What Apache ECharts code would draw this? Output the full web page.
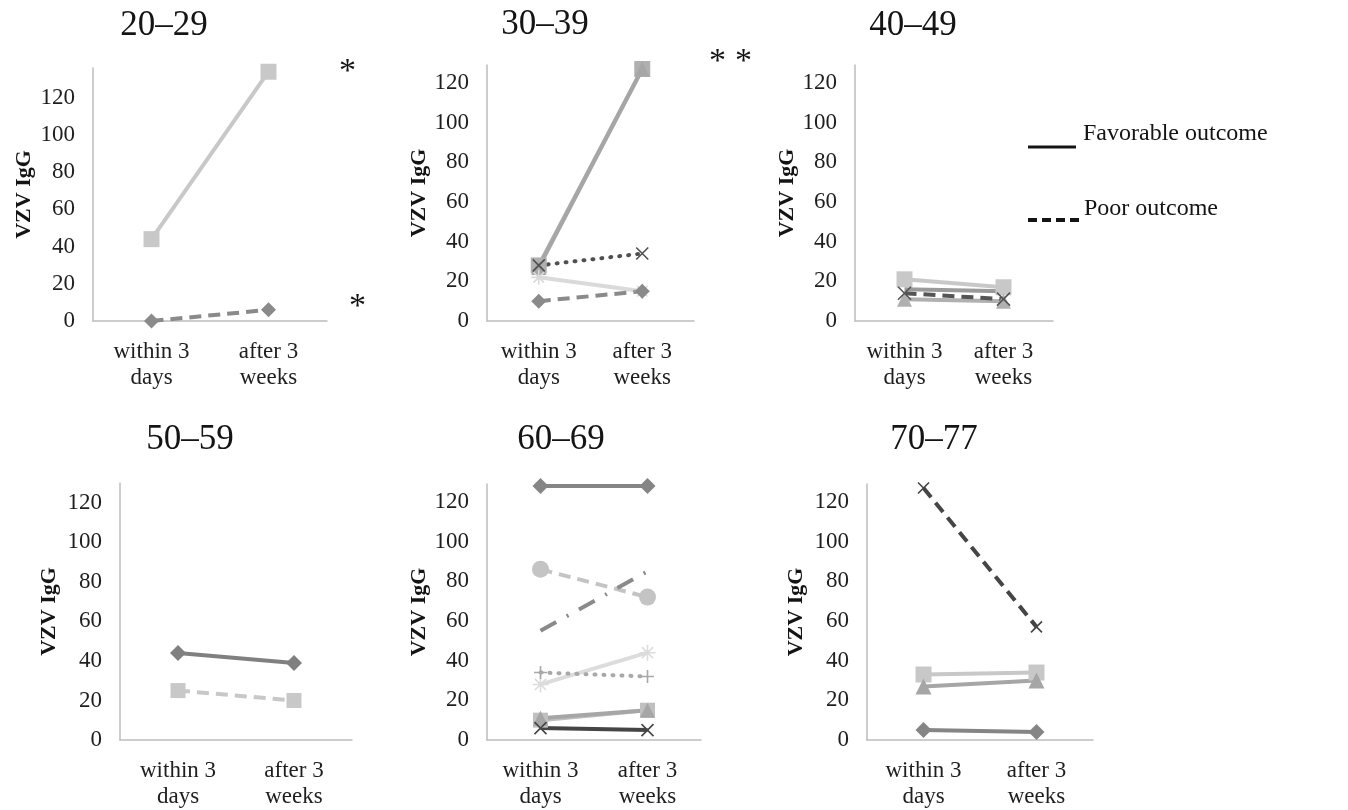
<!DOCTYPE html>
<html>
<head>
<meta charset="utf-8">
<script src="https://cdn.jsdelivr.net/npm/echarts@6/dist/echarts.min.js"></script>
<style>
  * { margin: 0; padding: 0; }
  html, body { background: #fff; }
  #main { width: 1348px; height: 810px; }
</style>
</head>
<body>
<div id="main"></div>
<script>
  // categories and panel titles
  var categories = ['within 3\ndays', 'after 3\nweeks'];
  var panelTitles = ['20–29', '30–39', '40–49', '50–59', '60–69', '70–77'];
  var yTickStep = 20;
  var yMax = [136, 129, 129, 130, 129, 129];

  // 20–29
  var a20_square = [44, 134];
  var a20_diamond = [0, 6];
  // 30–39
  var a30_square = [28, 127];
  var a30_triangle = [27, 127];
  var a30_cross = [28, 34];
  var a30_star = [22, 15];
  var a30_diamond = [10, 15];
  // 40–49
  var a40_square = [21, 17];
  var a40_plain = [16, 15];
  var a40_cross = [14, 11];
  var a40_triangle = [11, 10];
  // 50–59
  var a50_diamond = [44, 39];
  var a50_square = [25, 20];
  // 60–69
  var a60_diamond = [128, 128];
  var a60_circle = [86, 72];
  var a60_dashdot = [55, 85];
  var a60_star = [28, 44];
  var a60_plus = [34, 32];
  var a60_square = [10, 15];
  var a60_triangle = [11, 15];
  var a60_cross = [6, 5];
  // 70–77
  var a70_cross = [127, 57];
  var a70_square = [33, 34];
  var a70_triangle = [27, 30];
  var a70_diamond = [5, 4];

  var SERIF = '"Liberation Serif", "DejaVu Serif", serif';
  var INK = '#141414';
  var xSym = 'path://M0,0L10,10M10,0L0,10';
  var starSym = 'path://M5,0L5,10M0,5L10,5M1.5,1.5L8.5,8.5M8.5,1.5L1.5,8.5';
  var plusSym = 'path://M5,0L5,10M0,5L10,5';

  var dash = [12, 7];
  var dot = [1, 8];
  var dashDot = [18, 12, 2, 12];

  // grids (px) : left, top, width, height
  var grids = [
    { left: 93, top: 68, width: 234, height: 253 },
    { left: 487, top: 65, width: 207, height: 256 },
    { left: 855, top: 65, width: 198, height: 256 },
    { left: 120, top: 483, width: 232, height: 257 },
    { left: 487, top: 484, width: 214, height: 256 },
    { left: 867, top: 484, width: 226, height: 256 }
  ];
  var nameGaps = [58, 56, 52, 60, 56, 60];

  // panel, data, color, line type, symbol, size, width
  var lines = [
    [0, a20_square, '#c8c8c8', 'solid', 'rect', 16, 4],
    [0, a20_diamond, '#8a8a8a', dash, 'diamond', 15, 4],

    [1, a30_square, '#b0b0b0', 'solid', 'rect', 16, 4],
    [1, a30_triangle, '#a6a6a6', 'solid', 'triangle', 15, 4],
    [1, a30_star, '#dadada', 'solid', starSym, 15, 4],
    [1, a30_cross, '#505050', dot, xSym, 12, 4],
    [1, a30_diamond, '#8a8a8a', dash, 'diamond', 15, 4],

    [2, a40_square, '#c8c8c8', 'solid', 'rect', 16, 4],
    [2, a40_plain, '#9a9a9a', 'solid', 'none', 0, 4],
    [2, a40_triangle, '#b0b0b0', 'solid', 'triangle', 15, 4],
    [2, a40_cross, '#555555', dash, xSym, 13, 4],

    [3, a50_diamond, '#808080', 'solid', 'diamond', 16, 4],
    [3, a50_square, '#c8c8c8', dash, 'rect', 15, 4],

    [4, a60_diamond, '#858585', 'solid', 'diamond', 16, 4],
    [4, a60_circle, '#c4c4c4', dash, 'circle', 17, 4],
    [4, a60_dashdot, '#8a8a8a', dashDot, 'none', 0, 4],
    [4, a60_star, '#dcdcdc', 'solid', starSym, 16, 4],
    [4, a60_plus, '#a8a8a8', dot, plusSym, 13, 4],
    [4, a60_square, '#c0c0c0', 'solid', 'rect', 15, 4],
    [4, a60_triangle, '#a6a6a6', 'solid', 'triangle', 15, 4],
    [4, a60_cross, '#454545', 'solid', xSym, 12, 4],

    [5, a70_cross, '#454545', dash, xSym, 11, 4],
    [5, a70_square, '#c8c8c8', 'solid', 'rect', 16, 4],
    [5, a70_triangle, '#a6a6a6', 'solid', 'triangle', 16, 4],
    [5, a70_diamond, '#858585', 'solid', 'diamond', 16, 4]
  ];

  var titlePos = [[164, 8], [545, 7], [913, 8], [190, 422], [561, 422], [934, 422]];

  var option = {
    animation: false,
    backgroundColor: '#fff',
    title: panelTitles.map(function (t, i) {
      return {
        text: t, left: titlePos[i][0], top: titlePos[i][1], textAlign: 'center', padding: 0,
        textStyle: { fontFamily: SERIF, fontSize: 35, fontWeight: 'normal', color: INK }
      };
    }),
    grid: grids,
    xAxis: grids.map(function (g, i) {
      return {
        type: 'category', gridIndex: i, data: categories, boundaryGap: true,
        axisLine: { lineStyle: { color: '#bdbdbd', width: 1.5 } },
        axisTick: { show: false },
        axisLabel: { fontFamily: SERIF, fontSize: 23, color: '#1e1e1e', lineHeight: 26, margin: 18 }
      };
    }),
    yAxis: grids.map(function (g, i) {
      return {
        type: 'value', gridIndex: i, min: 0, max: yMax[i], interval: yTickStep,
        name: 'VZV IgG', nameLocation: 'middle', nameGap: nameGaps[i],
        nameTextStyle: { fontFamily: SERIF, fontSize: 22, fontWeight: 'bold', color: INK },
        axisLine: { show: true, lineStyle: { color: '#bdbdbd', width: 1.5 } },
        axisTick: { show: false },
        splitLine: { show: false },
        axisLabel: {
          fontFamily: SERIF, fontSize: 23, color: '#1e1e1e', margin: 18, showMaxLabel: false,
          formatter: function (v) { return v % yTickStep === 0 ? String(v) : ''; }
        }
      };
    }),
    series: lines.map(function (s) {
      var isPath = typeof s[4] === 'string' && s[4].indexOf('path://') === 0;
      return {
        type: 'line', xAxisIndex: s[0], yAxisIndex: s[0], data: s[1],
        symbol: s[4], symbolSize: s[5], showSymbol: s[4] !== 'none',
        lineStyle: { color: s[2], width: s[6], type: s[3], cap: s[3] === dot ? 'round' : 'butt' },
        itemStyle: isPath
          ? { color: s[2], borderColor: s[2], borderWidth: 1.6 }
          : { color: s[2], borderWidth: 0 },
        silent: true
      };
    }),
    graphic: [
      { type: 'text', left: 339, top: 55, style: { text: '*', font: '34px ' + SERIF, fill: INK } },
      { type: 'text', left: 349, top: 290, style: { text: '*', font: '34px ' + SERIF, fill: INK } },
      { type: 'text', left: 709, top: 45, style: { text: '*', font: '34px ' + SERIF, fill: INK } },
      { type: 'text', left: 735, top: 45, style: { text: '*', font: '34px ' + SERIF, fill: INK } },
      { type: 'line', shape: { x1: 1028, y1: 147, x2: 1076, y2: 147 }, style: { stroke: INK, lineWidth: 3 } },
      { type: 'text', left: 1083, top: 122, style: { text: 'Favorable outcome', font: '24px ' + SERIF, fill: INK } },
      { type: 'line', shape: { x1: 1028, y1: 220, x2: 1084, y2: 220 }, style: { stroke: INK, lineWidth: 4, lineDash: [9, 5] } },
      { type: 'text', left: 1084, top: 197, style: { text: 'Poor outcome', font: '24px ' + SERIF, fill: INK } }
    ]
  };

  var chart = echarts.init(document.getElementById('main'));
  chart.setOption(option);
</script>
</body>
</html>
